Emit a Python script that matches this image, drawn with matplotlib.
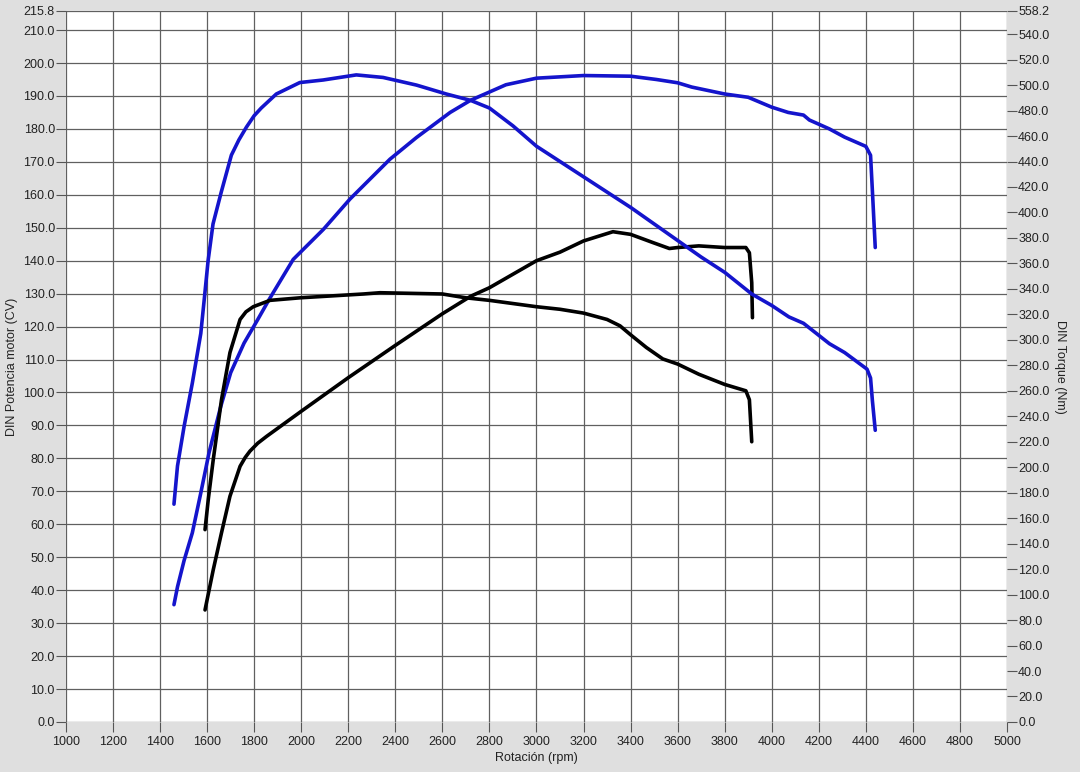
import matplotlib.pyplot as plt
import numpy as np

plt.rcParams['font.family'] = ['Liberation Sans', 'DejaVu Sans']

# blue run - power (CV)
blue_pow_rpm = [1459, 1474, 1502, 1537, 1573, 1608, 1658, 1700, 1757, 1814, 1864, 1966,
                2094, 2207, 2377, 2490, 2633, 2720, 2800, 2870, 3000, 3200, 3400, 3510,
                3600, 3660, 3800, 3900, 4000, 4070, 4135, 4160, 4245, 4310, 4400, 4420,
                4428, 4440]
blue_pow = [35.6, 41.0, 49.0, 57.4, 69.5, 81.7, 95.8, 106.0, 115.0, 122.0, 128.3, 140.4,
            149.5, 158.7, 170.8, 177.4, 185.0, 188.7, 191.2, 193.4, 195.4, 196.2, 196.0, 195.0,
            194.0, 192.7, 190.6, 189.6, 186.6, 185.0, 184.2, 182.7, 180.0, 177.5, 174.7, 172.0,
            161.0, 144.0]

# blue run - torque (Nm)
blue_trq_rpm = [1459, 1474, 1502, 1537, 1573, 1590, 1604, 1625, 1660, 1703, 1735, 1767,
                1800, 1830, 1894, 1994, 2093, 2234, 2348, 2490, 2617, 2720, 2800, 2900,
                3000, 3100, 3200, 3300, 3400, 3500, 3600, 3700, 3800, 3915, 4000, 4073,
                4135, 4245, 4310, 4405, 4420, 4428, 4440]
blue_trq = [171, 201, 232, 266, 305, 336, 362, 391, 416, 445, 457, 467,
            476, 482, 493, 502, 504, 508, 506, 500, 493, 488, 482, 468,
            452, 440, 428, 416, 404, 391, 378, 365, 353, 336, 327, 318,
            313, 297, 290, 277, 270, 252, 229]

# black run - power (CV)
black_pow_rpm = [1591, 1626, 1661, 1697, 1740, 1762, 1782, 1815, 1853, 2000, 2200, 2400,
                 2600, 2720, 2800, 3000, 3100, 3200, 3325, 3400, 3495, 3565, 3600, 3690,
                 3800, 3890, 3905, 3915, 3918]
black_pow = [34.0, 46.2, 57.4, 68.5, 77.6, 80.3, 82.2, 84.6, 86.7, 94.3, 104.5, 114.3,
             123.9, 129.2, 131.8, 140.0, 142.6, 146.0, 148.8, 148.0, 145.5, 143.7, 144.0, 144.5,
             144.0, 144.0, 142.4, 133.3, 122.7]

# black run - torque (Nm)
black_trq_rpm = [1591, 1605, 1626, 1661, 1697, 1740, 1765, 1796, 1867, 1995, 2264, 2335,
                 2600, 2700, 2800, 3000, 3100, 3200, 3300, 3355, 3400, 3467, 3537, 3600,
                 3690, 3800, 3890, 3905, 3915]
black_trq = [151, 175, 206, 253, 290, 316, 322, 326, 331, 333, 336, 337,
             336, 333, 331, 326, 324, 321, 316, 311, 304, 294, 285, 281,
             273, 265, 260, 253, 220]

left_max = 215.8
right_max = 558.2
blue = '#1414cc'

fig = plt.figure(figsize=(10.8, 7.72), dpi=100, facecolor='#dfdfdf')
ax = fig.add_axes([0.0611, 0.0648, 0.8713, 0.921])
ax.set_facecolor('white')
ax2 = ax.twinx()

ax.set_xlim(1000, 5000)
ax.set_ylim(0, left_max)
ax2.set_ylim(0, right_max)

left_ticks = list(np.arange(0, 211, 10)) + [left_max]
right_ticks = list(np.arange(0, 541, 20)) + [right_max]
ax.set_xticks(np.arange(1000, 5001, 200))
ax.set_yticks(left_ticks)
ax.set_yticklabels(['%.1f' % v for v in left_ticks])
ax2.set_yticks(right_ticks)
ax2.set_yticklabels(['%.1f' % v for v in right_ticks])

ax.grid(True, color='#606060', linewidth=0.9)
ax.set_axisbelow(True)
for a in (ax, ax2):
    for s in a.spines.values():
        s.set_visible(False)
    a.tick_params(direction='out', length=7, width=0.8, color='#555555',
                  labelsize=9, labelcolor='#222222', pad=1)
ax.tick_params(axis='x', pad=3)

ax.plot(blue_pow_rpm, blue_pow, color=blue, linewidth=2.6, solid_capstyle='round')
ax.plot(black_pow_rpm, black_pow, color='black', linewidth=2.6, solid_capstyle='round')
ax2.plot(blue_trq_rpm, blue_trq, color=blue, linewidth=2.6, solid_capstyle='round')
ax2.plot(black_trq_rpm, black_trq, color='black', linewidth=2.6, solid_capstyle='round')

ax.set_xlabel('Rotación (rpm)', fontsize=9, color='#222222', labelpad=3)
ax.set_ylabel('DIN Potencia motor (CV)', fontsize=9, color='#222222', labelpad=4)
ax2.set_ylabel('DIN Torque (Nm)', fontsize=9, color='#222222', rotation=270, labelpad=12)

fig.savefig('out.png', dpi=100, facecolor=fig.get_facecolor())
